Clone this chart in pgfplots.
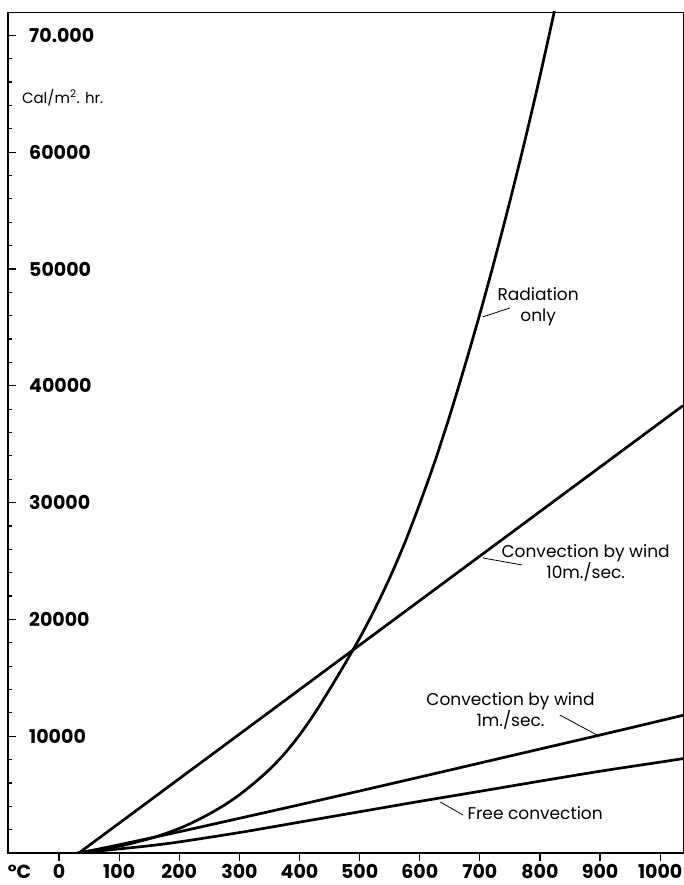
\documentclass[border=0pt]{standalone}
\usepackage{fontspec}
\setmainfont{Poppins}
\usepackage{pgfplots}
\pgfplotsset{compat=1.18}
\usetikzlibrary{calc}
\begin{document}
\begin{tikzpicture}
\begin{axis}[name=ax, width=675pt, height=841pt, scale only axis,
  xmin=-85, xmax=1038, ymin=0, ymax=72000,
  clip mode=individual,
  axis line style={line width=0.9pt},
  xtick={0,100,...,1000},
  xticklabels={0,100,200,300,400,500,600,700,800,900,1000},
  ytick={10000,20000,30000,40000,50000,60000,70000},
  yticklabels={10000,20000,30000,40000,50000,60000,70.000},
  minor ytick={2000,4000,...,70000},
  xtick pos=bottom, ytick pos=left,
  xtick align=outside, ytick align=inside,
  major tick length=8pt, minor tick length=4pt,
  tick style={line width=1.2pt, black},
  xticklabel style={font=\fontsize{19}{19}\selectfont\bfseries, anchor=base, inner sep=0pt, yshift=-17pt},
  yticklabel style={font=\fontsize{19}{19}\selectfont\bfseries, anchor=west, inner sep=0pt, xshift=21pt},
  scaled ticks=false,
]
\addplot[line width=2.7pt, smooth, tension=0.5] coordinates {
 (30,0) (100,585) (150,1220) (175,1630) (200,2100) (225,2680) (250,3350)
 (275,4100) (300,4980) (325,6010) (350,7150) (375,8500) (400,10100)
 (425,11950) (450,14000) (475,16150) (500,18400) (525,20850) (550,23550)
 (575,26540) (600,29900) (625,33500) (650,37450) (675,41700) (700,46150)
 (725,50850) (750,55800) (775,61000) (800,66500) (825,72300)};
\addplot[line width=2.7pt] coordinates {(33,0) (1038,38300)};
\addplot[line width=2.7pt, smooth, tension=0.5] coordinates {
 (33,0) (100,705) (200,1820) (300,2970) (400,4130) (500,5310) (600,6500)
 (700,7700) (800,8900) (900,10100) (1000,11320) (1038,11790)};
\addplot[line width=2.7pt, smooth, tension=0.5] coordinates {
 (33,0) (100,350) (150,620) (200,950) (300,1750) (400,2640) (500,3530)
 (600,4420) (700,5280) (800,6150) (900,7000) (1000,7780) (1038,8080)};
\draw[line width=1.8pt] (rel axis cs:0,1) -- (rel axis cs:0,0) -- (rel axis cs:1,0);
\begin{scope}[every node/.style={font=\fontsize{17}{21}\selectfont, align=center, inner sep=0pt}]
\node at (axis cs:797,46750) {Radiation\\only};
\draw[line width=0.8pt] (axis cs:705,45900) -- (axis cs:750,46660);
\node at (axis cs:876,24800) {Convection by wind\\10m./sec.};
\draw[line width=0.8pt] (axis cs:705,25260) -- (axis cs:770,24660);
\node at (axis cs:751,12150) {Convection by wind\\1m./sec.};
\draw[line width=0.8pt] (axis cs:833,11815) -- (axis cs:895,10100);
\node at (axis cs:792,3420) {Free convection};
\draw[line width=0.8pt] (axis cs:634,4370) -- (axis cs:672,3250);
\end{scope}
\node[anchor=west, inner sep=0pt, font=\fontsize{15}{15}\selectfont] at (axis cs:-62,64700) {Cal/m\textsuperscript{2}. hr.};
\node[anchor=base, inner sep=0pt, font=\fontsize{19}{19}\selectfont\bfseries] at (axis cs:-66,0) [yshift=-25pt] {°C};
\end{axis}
\pgfresetboundingbox
\path ($(ax.south west)+(-8pt,-32pt)$) rectangle ($(ax.north east)+(1pt,12pt)$);
\end{tikzpicture}
\end{document}
